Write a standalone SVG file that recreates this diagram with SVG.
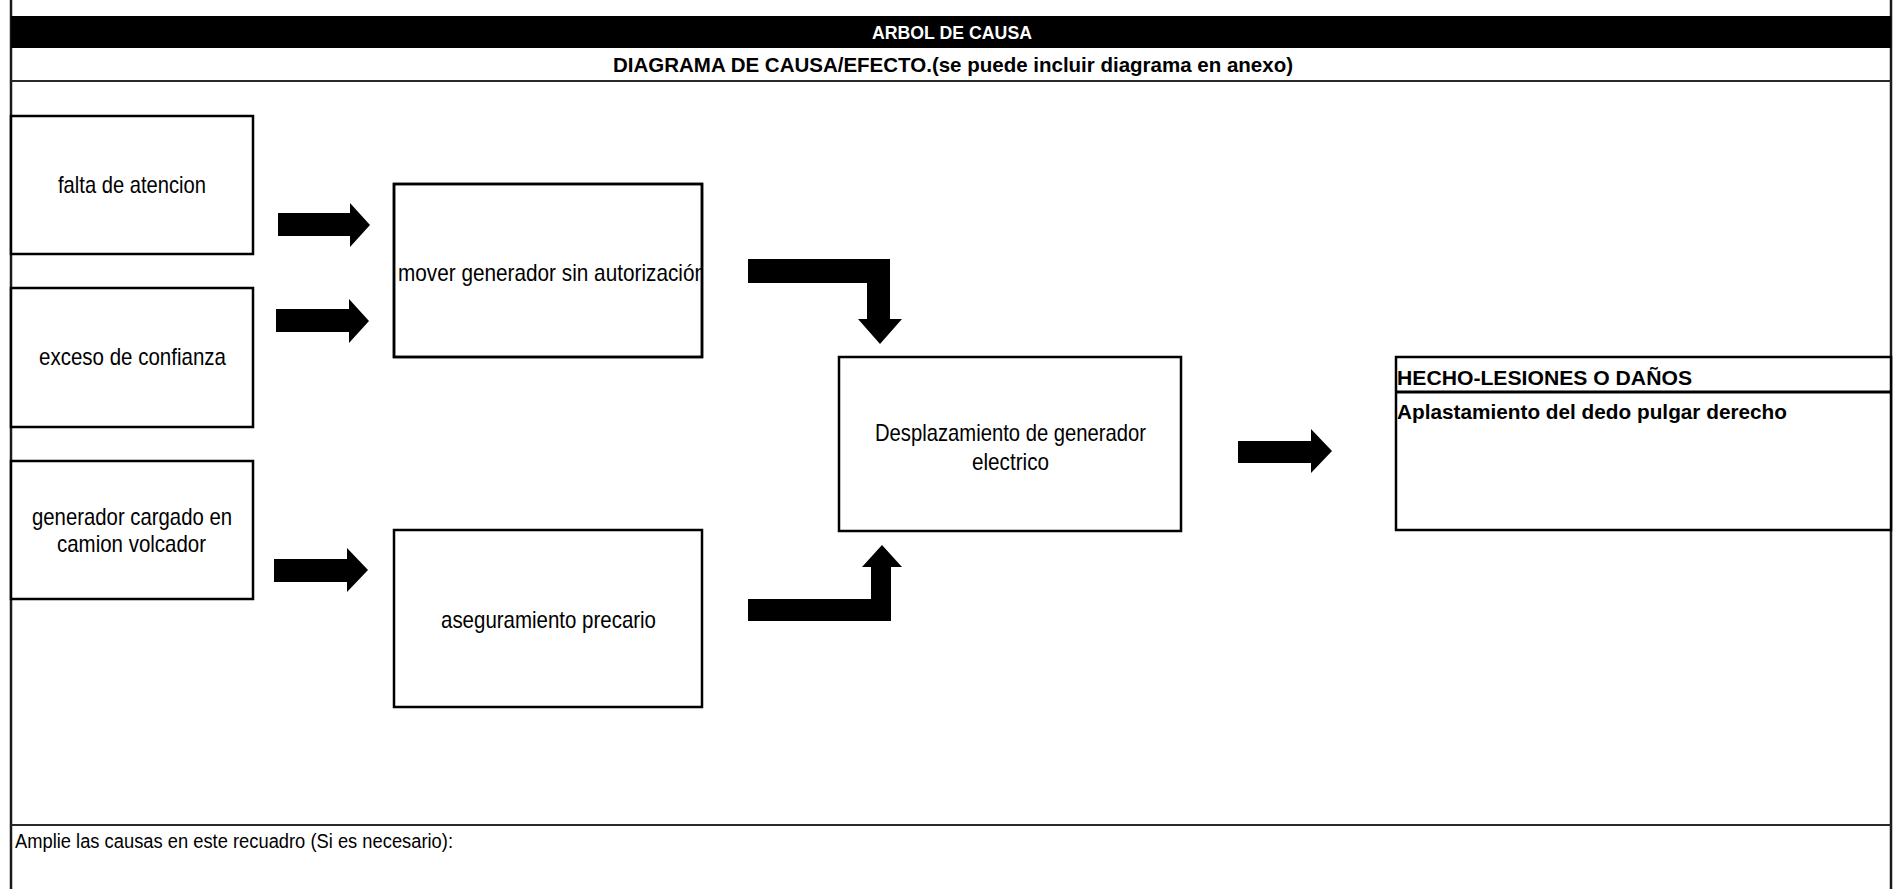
<svg xmlns="http://www.w3.org/2000/svg" width="1895" height="889" viewBox="0 0 1895 889">
<style>
  .frame { stroke: #1a1a1a; stroke-width: 2.5; fill: none; }
  .hline { stroke: #2a2a2a; stroke-width: 2; fill: none; }
  .box { fill: #ffffff; stroke: #000000; stroke-width: 2.5; }
  .t { font-family: "Liberation Sans", Arial, sans-serif; fill: #000000; }
  .n { font-size: 24px; }
  .b { font-weight: bold; }
  .arrow { fill: #000000; stroke: none; }
</style>
<defs>
  <clipPath id="clipMover"><rect x="395" y="185" width="306" height="172"/></clipPath>
</defs>
<rect x="0" y="0" width="1895" height="889" fill="#ffffff"/>

<g id="frame">
  <line class="frame" x1="11" y1="0" x2="11" y2="889"/>
  <line class="frame" x1="1891" y1="0" x2="1891" y2="889"/>
  <rect x="11" y="16" width="1880" height="32" fill="#000000"/>
  <line class="hline" x1="11" y1="81" x2="1891" y2="81"/>
  <line class="hline" x1="11" y1="825" x2="1891" y2="825"/>
  <text class="t b" x="872" y="39" font-size="19" fill="#ffffff" style="fill:#ffffff" textLength="160" lengthAdjust="spacingAndGlyphs">ARBOL DE CAUSA</text>
  <text class="t b" x="613" y="72" font-size="21" textLength="680" lengthAdjust="spacingAndGlyphs">DIAGRAMA DE CAUSA/EFECTO.(se puede incluir diagrama en anexo)</text>
  <text class="t" x="15" y="848" font-size="20" textLength="438" lengthAdjust="spacingAndGlyphs">Amplie las causas en este recuadro (Si es necesario):</text>
</g>

<g id="connectors">
  <polygon class="arrow" points="278,213 350,213 350,203 370,225 350,247 350,236 278,236"/>
  <polygon class="arrow" points="276,309 349,309 349,299 369,321 349,343 349,332 276,332"/>
  <polygon class="arrow" points="274,559 347,559 347,548 368,570 347,592 347,582 274,582"/>
  <polygon class="arrow" points="748,259 890,259 890,319 902,319 880,344 858,319 867,319 867,283 748,283"/>
  <polygon class="arrow" points="748,621 891,621 891,567 902,567 882,545 862,567 871,567 871,599 748,599"/>
  <polygon class="arrow" points="1238,441 1311,441 1311,429 1332,451 1311,473 1311,463 1238,463"/>
</g>

<g id="node-falta">
  <rect class="box" x="11" y="116" width="242" height="138"/>
  <text class="t n" x="58" y="193" textLength="148" lengthAdjust="spacingAndGlyphs">falta de atencion</text>
</g>
<g id="node-exceso">
  <rect class="box" x="11" y="288" width="242" height="139"/>
  <text class="t n" x="39" y="365" textLength="187" lengthAdjust="spacingAndGlyphs">exceso de confianza</text>
</g>
<g id="node-generador">
  <rect class="box" x="11" y="461" width="242" height="138"/>
  <text class="t n" x="32" y="525" textLength="200" lengthAdjust="spacingAndGlyphs">generador cargado en</text>
  <text class="t n" x="57" y="552" textLength="149" lengthAdjust="spacingAndGlyphs">camion volcador</text>
</g>
<g id="node-mover">
  <rect class="box" x="394" y="184" width="308" height="173"/>
  <text class="t n" x="398" y="281" textLength="308" lengthAdjust="spacingAndGlyphs" clip-path="url(#clipMover)">mover generador sin autorización</text>
  <rect x="394" y="184" width="308" height="173" fill="none" stroke="#000" stroke-width="2.5"/>
</g>
<g id="node-aseguramiento">
  <rect class="box" x="394" y="530" width="308" height="177"/>
  <text class="t n" x="441" y="628" textLength="215" lengthAdjust="spacingAndGlyphs">aseguramiento precario</text>
</g>
<g id="node-desplazamiento">
  <rect class="box" x="839" y="357" width="342" height="174"/>
  <text class="t n" x="875" y="441" textLength="271" lengthAdjust="spacingAndGlyphs">Desplazamiento de generador</text>
  <text class="t n" x="972" y="470" textLength="77" lengthAdjust="spacingAndGlyphs">electrico</text>
</g>
<g id="node-hecho">
  <rect class="box" x="1396" y="357" width="495" height="173" stroke-width="3"/>
  <line x1="1396" y1="392" x2="1891" y2="392" stroke="#000" stroke-width="3"/>
  <text class="t b" x="1397" y="385" font-size="21" textLength="295" lengthAdjust="spacingAndGlyphs">HECHO-LESIONES O DAÑOS</text>
  <text class="t b" x="1397" y="419" font-size="20" textLength="390" lengthAdjust="spacingAndGlyphs">Aplastamiento del dedo pulgar derecho</text>
</g>
</svg>
